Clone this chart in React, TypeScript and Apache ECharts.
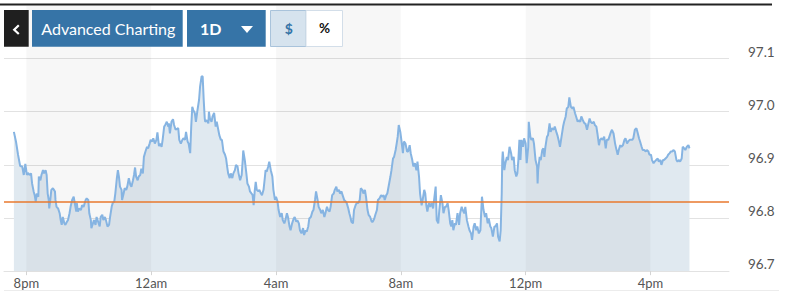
import React, { useEffect, useRef } from "react";
import * as echarts from "echarts";

// minutes after 7:00pm (previous evening)
const minutes = [
  36, 40, 44, 48, 52, 55, 58, 61, 63, 66, 69, 71, 74, 76, 78, 80, 83, 84, 87, 89, 92, 94, 97, 99, 101, 103, 104, 106, 108, 111,
  113, 115, 116, 118, 121, 124, 126, 128, 130, 133, 135, 138, 140, 143, 145, 148, 151, 153, 156, 157, 159, 162, 165, 167, 170, 174, 176, 179, 181, 184,
  185, 188, 190, 193, 195, 198, 201, 203, 206, 208, 211, 213, 216, 219, 221, 224, 226, 229, 231, 234, 236, 238, 240, 243, 244, 247, 249, 252, 254, 257,
  260, 262, 265, 267, 269, 271, 274, 276, 279, 281, 284, 286, 289, 292, 294, 297, 299, 302, 304, 307, 310, 312, 315, 317, 320, 322, 325, 327, 330, 333,
  334, 336, 339, 342, 344, 347,
  352, 354, 357, 360, 362, 365, 367, 370, 372, 375, 377, 379, 381, 384, 386, 389, 392, 394, 397, 399, 401, 403, 404, 407, 410, 411, 413, 416, 418, 421,
  424, 426, 429, 431, 434, 436, 439, 442, 444, 446, 448, 451, 453, 456, 458, 461, 463, 466, 468, 471, 474, 476, 477, 480, 483, 485, 488, 490, 493, 495,
  497, 499, 501, 503, 506, 508, 511, 513, 516, 518, 520, 522, 525, 527, 530, 533, 535, 538, 540, 543, 545, 548, 551, 553, 556, 558, 561, 563, 566, 568,
  571, 574, 576, 579, 581, 584, 586, 589, 592, 594, 597, 599, 602, 604, 607, 610, 612, 615, 617, 620, 622, 625, 627, 630, 633, 635, 638, 640, 643, 645,
  648, 651, 653, 656, 658, 661, 663, 666, 668, 671, 674, 676, 679, 681,
  683, 685, 688, 690, 693, 695, 698, 701, 703, 706, 708, 711, 713, 716, 718, 721, 724, 726, 729, 731, 734, 736, 739, 742, 744, 747, 749, 752, 754, 757,
  760, 762, 765, 767, 770, 772, 774, 776, 779, 781, 784, 786, 789, 792, 794, 797, 799, 802, 804, 807, 810, 812, 815, 817, 820, 822, 825, 827, 829, 831,
  834, 836, 839, 842, 844, 847, 849, 852, 854, 857, 860, 862, 865, 867, 870, 872, 875, 877, 879, 881, 884, 886, 889, 892, 894, 897, 899, 902, 904, 907,
  910, 912, 915, 917, 920, 922, 925, 927, 930, 933, 935, 936, 939, 942, 944, 947, 949, 952, 954, 957, 960, 962, 965, 967, 970, 972, 974, 975, 976, 979,
  981, 984, 986, 989, 992, 994, 997, 999, 1002, 1004, 1006, 1008,
  1010, 1012, 1015, 1017, 1020, 1022, 1025, 1026, 1029, 1031, 1034, 1036, 1039, 1042, 1043, 1044, 1047, 1049, 1052, 1054, 1056, 1058, 1061, 1063, 1066, 1068, 1071, 1074, 1076, 1079,
  1081, 1084, 1086, 1089, 1092, 1094, 1097, 1099, 1102, 1104, 1107, 1110, 1112, 1115, 1117, 1120, 1122, 1125, 1127, 1130, 1133, 1135, 1138, 1140, 1143, 1145, 1148, 1151, 1153, 1156,
  1158, 1161, 1163, 1166, 1168, 1171, 1174, 1176, 1179, 1181, 1184, 1186, 1189, 1192, 1194, 1197, 1199, 1202, 1204, 1207, 1210, 1212, 1215, 1217, 1220, 1222, 1225, 1227, 1230, 1233,
  1235, 1238, 1240, 1243, 1245, 1248, 1251, 1253, 1256, 1258, 1261, 1263, 1266, 1268, 1271, 1274, 1276, 1279, 1281, 1284, 1286, 1289, 1292, 1294, 1297, 1299, 1302, 1304, 1307, 1310,
  1312, 1315, 1317, 1320, 1322, 1325, 1327, 1330, 1333, 1335,
];

const prices = [
  96.962, 96.944, 96.919, 96.898, 96.897, 96.881, 96.902, 96.881, 96.885, 96.881, 96.884, 96.865, 96.85, 96.843, 96.831, 96.846, 96.84, 96.878, 96.871, 96.881, 96.89, 96.884, 96.89, 96.881, 96.846, 96.834, 96.818, 96.834, 96.853, 96.856,
  96.853, 96.85, 96.834, 96.821, 96.818, 96.809, 96.796, 96.787, 96.802, 96.79, 96.787, 96.793, 96.796, 96.809, 96.821, 96.834, 96.84, 96.828, 96.812, 96.828, 96.812, 96.818, 96.815, 96.824, 96.821, 96.834, 96.837, 96.834, 96.809, 96.796,
  96.781, 96.79, 96.796, 96.787, 96.802, 96.793, 96.784, 96.802, 96.806, 96.796, 96.802, 96.796, 96.784, 96.787, 96.802, 96.821, 96.828, 96.831, 96.846, 96.875, 96.89, 96.878, 96.859, 96.853, 96.834, 96.846, 96.856, 96.853, 96.859, 96.875,
  96.862, 96.859, 96.871, 96.881, 96.895, 96.878, 96.871, 96.878, 96.881, 96.893, 96.884, 96.915, 96.925, 96.934, 96.931, 96.94, 96.947, 96.944, 96.95, 96.94, 96.947, 96.961, 96.935, 96.94, 96.934, 96.947, 96.972, 96.975, 96.981, 96.972,
  96.978, 96.959, 96.981, 96.986, 96.975, 96.966,
  96.969, 96.947, 96.94, 96.947, 96.95, 96.947, 96.962, 96.944, 96.94, 96.922, 96.972, 97.009, 97.003, 96.997, 96.981, 97.003, 97.022, 97.047, 97.067, 97.066, 97.022, 96.987, 96.981, 96.984, 96.978, 97.0, 96.987, 96.981, 96.991, 96.998,
  96.972, 96.981, 96.966, 96.956, 96.947, 96.947, 96.925, 96.919, 96.912, 96.897, 96.884, 96.875, 96.884, 96.875, 96.884, 96.89, 96.9, 96.897, 96.884, 96.871, 96.881, 96.909, 96.927, 96.909, 96.884, 96.865, 96.859, 96.85, 96.846, 96.843,
  96.824, 96.85, 96.868, 96.853, 96.85, 96.853, 96.846, 96.843, 96.853, 96.871, 96.89, 96.887, 96.897, 96.906, 96.89, 96.878, 96.853, 96.834, 96.84, 96.831, 96.815, 96.802, 96.809, 96.796, 96.79, 96.796, 96.809, 96.802, 96.784, 96.777,
  96.79, 96.799, 96.802, 96.793, 96.796, 96.79, 96.777, 96.771, 96.781, 96.768, 96.777, 96.774, 96.784, 96.799, 96.802, 96.812, 96.815, 96.834, 96.85, 96.834, 96.821, 96.815, 96.809, 96.815, 96.802, 96.809, 96.821, 96.815, 96.812, 96.821,
  96.843, 96.846, 96.853, 96.859, 96.85, 96.853, 96.846, 96.85, 96.843, 96.834, 96.831, 96.828, 96.818, 96.809,
  96.802, 96.793, 96.79, 96.815, 96.824, 96.828, 96.828, 96.834, 96.856, 96.853, 96.846, 96.853, 96.84, 96.815, 96.806, 96.802, 96.793, 96.793, 96.799, 96.806, 96.815, 96.834, 96.837, 96.843, 96.84, 96.843, 96.834, 96.843, 96.846, 96.862,
  96.878, 96.89, 96.912, 96.915, 96.928, 96.94, 96.953, 96.975, 96.962, 96.947, 96.922, 96.944, 96.94, 96.925, 96.925, 96.937, 96.922, 96.909, 96.897, 96.903, 96.89, 96.906, 96.878, 96.846, 96.824, 96.834, 96.853, 96.846, 96.824, 96.812,
  96.828, 96.821, 96.828, 96.818, 96.834, 96.859, 96.796, 96.79, 96.815, 96.843, 96.828, 96.809, 96.821, 96.821, 96.828, 96.815, 96.79, 96.784, 96.796, 96.777, 96.79, 96.787, 96.809, 96.787, 96.809, 96.821, 96.815, 96.809, 96.821, 96.796,
  96.784, 96.777, 96.771, 96.759, 96.784, 96.79, 96.777, 96.784, 96.771, 96.777, 96.821, 96.84, 96.815, 96.802, 96.809, 96.79, 96.799, 96.784, 96.781, 96.765, 96.784, 96.784, 96.79, 96.765, 96.756, 96.777, 96.846, 96.909, 96.925, 96.89,
  96.903, 96.915, 96.909, 96.934, 96.922, 96.909, 96.915, 96.89, 96.878, 96.884, 96.909, 96.947,
  96.909, 96.947, 96.934, 96.95, 96.94, 96.903, 96.934, 96.981, 96.953, 96.947, 96.95, 96.94, 96.909, 96.897, 96.865, 96.89, 96.915, 96.909, 96.928, 96.931, 96.915, 96.934, 96.953, 96.956, 96.978, 96.962, 96.969, 96.966, 96.972, 96.962,
  96.956, 96.944, 96.934, 96.953, 96.972, 96.981, 96.991, 97.006, 97.009, 97.027, 97.009, 97.006, 97.009, 96.997, 96.991, 96.981, 96.984, 96.981, 96.991, 96.984, 96.978, 96.978, 96.966, 96.975, 96.987, 96.981, 96.978, 96.981, 96.975, 96.972,
  96.959, 96.937, 96.947, 96.95, 96.947, 96.953, 96.931, 96.947, 96.947, 96.953, 96.962, 96.966, 96.959, 96.94, 96.931, 96.919, 96.928, 96.937, 96.934, 96.937, 96.947, 96.95, 96.94, 96.944, 96.947, 96.947, 96.947, 96.95, 96.966, 96.969,
  96.962, 96.95, 96.944, 96.934, 96.928, 96.928, 96.925, 96.928, 96.925, 96.919, 96.919, 96.909, 96.903, 96.906, 96.909, 96.912, 96.906, 96.909, 96.9, 96.909, 96.909, 96.912, 96.915, 96.919, 96.922, 96.925, 96.925, 96.928, 96.925, 96.909,
  96.906, 96.909, 96.906, 96.912, 96.934, 96.931, 96.928, 96.934, 96.937, 96.931,
];

const previousClose = 96.833;
const xTickMinutes = [60, 300, 540, 780, 1020, 1260];
const xTickLabels = ["8pm", "12am", "4am", "8am", "12pm", "4pm"];
const shadedPeriods = [
  [60, 300],
  [540, 780],
  [1020, 1260],
];
const xMin = 17;
const xMax = 1411;
const yMin = 96.7;
const yMax = 97.2;
const yStep = 0.1;

const FONT = "Lato, 'Open Sans', sans-serif";
const BLUE = "#3674a7";

export default function App() {
  const ref = useRef<HTMLDivElement>(null);

  useEffect(() => {
    if (!ref.current) return;
    const chart = echarts.init(ref.current, null, { renderer: "svg" });
    const points = minutes.map((m, i) => [m, prices[i]]);

    chart.setOption({
      animation: false,
      textStyle: { fontFamily: FONT },
      grid: { left: 4, right: 60, top: 5.4, bottom: 26.85 },
      xAxis: {
        type: "value",
        min: xMin,
        max: xMax,
        axisLine: { show: true, lineStyle: { color: "#e2e2e2", width: 1 } },
        axisTick: {
          show: true,
          customValues: xTickMinutes,
          length: 4,
          lineStyle: { color: "#d4d4d4" },
        },
        axisLabel: {
          customValues: xTickMinutes,
          formatter: (v: number) => {
            const i = xTickMinutes.indexOf(Math.round(v));
            return i >= 0 ? xTickLabels[i] : "";
          },
          color: "#555",
          fontSize: 13,
          fontFamily: FONT,
          margin: 5,
        },
        splitLine: { show: false },
      },
      yAxis: {
        type: "value",
        position: "right",
        min: yMin,
        max: yMax,
        interval: yStep,
        axisLine: { show: false },
        axisTick: { show: false },
        axisLabel: {
          formatter: (v: number) => v.toFixed(1),
          showMaxLabel: false,
          showMinLabel: true,
          verticalAlign: "bottom",
          margin: 19,
          color: "#555",
          fontSize: 13.5,
          fontFamily: FONT,
        },
        splitLine: {
          show: true,
          lineStyle: {
            color: ["#e2e2e2", "#e2e2e2", "#e2e2e2", "#e2e2e2", "#e2e2e2", "rgba(0,0,0,0)"],
            width: 1,
          },
        },
      },
      series: [
        {
          name: "area",
          type: "line",
          data: points,
          showSymbol: false,
          silent: true,
          z: 0,
          lineStyle: { width: 0, opacity: 0 },
          areaStyle: { color: "#e0e9f0", opacity: 1 },
        },
        {
          name: "bands",
          type: "line",
          data: points,
          showSymbol: false,
          silent: true,
          z: 1,
          lineStyle: { width: 0, opacity: 0 },
          markArea: {
            silent: true,
            itemStyle: { color: "rgba(0,0,0,0.031)" },
            data: shadedPeriods.map(([a, b]) => [{ xAxis: a }, { xAxis: b }]),
          },
        },
        {
          name: "price",
          type: "line",
          data: points,
          showSymbol: false,
          silent: true,
          z: 3,
          lineStyle: { color: "#86b4e2", width: 2 },
          markLine: {
            silent: true,
            symbol: ["none", "none"],
            label: { show: false },
            lineStyle: { color: "#e8782e", width: 1.5, type: "solid" },
            data: [{ yAxis: previousClose }],
          },
        },
      ],
      graphic: [
        { type: "rect", z: 100, shape: { x: 0, y: 3.5, width: 772, height: 2 }, style: { fill: "#222222" } },
        { type: "line", z: 100, shape: { x1: 4, y1: 290.5, x2: 779, y2: 290.5 }, style: { stroke: "#ececec", lineWidth: 1 } },
        { type: "rect", z: 100, shape: { x: 4, y: 10, width: 24.7, height: 36.7 }, style: { fill: "#1f1f1f" } },
        {
          type: "polyline",
          z: 101,
          shape: { points: [[18.8, 25.3], [14.2, 29.7], [18.8, 34]] },
          style: { stroke: "#ffffff", lineWidth: 2.2, fill: null },
        },
        { type: "rect", z: 100, shape: { x: 32, y: 10, width: 150.7, height: 36.7 }, style: { fill: BLUE } },
        {
          type: "text",
          z: 101,
          x: 108.3,
          y: 28.5,
          style: {
            text: "Advanced Charting",
            fill: "#ffffff",
            fontSize: 16,
            fontFamily: FONT,
            align: "center",
            verticalAlign: "middle",
            textAlign: "center",
            textVerticalAlign: "middle",
          },
        },
        { type: "rect", z: 100, shape: { x: 187, y: 10, width: 78.7, height: 36.7 }, style: { fill: BLUE } },
        {
          type: "text",
          z: 101,
          x: 200,
          y: 28.5,
          style: {
            text: "1D",
            fill: "#ffffff",
            fontSize: 16,
            fontWeight: "bold",
            fontFamily: FONT,
            align: "left",
            verticalAlign: "middle",
            textAlign: "left",
            textVerticalAlign: "middle",
          },
        },
        {
          type: "polygon",
          z: 101,
          shape: { points: [[241, 26], [253, 26], [247, 33]] },
          style: { fill: "#ffffff" },
        },
        {
          type: "rect",
          z: 100,
          shape: { x: 270.5, y: 10.5, width: 35.5, height: 36 },
          style: { fill: "#d6e3ee", stroke: "#a9c3db", lineWidth: 1 },
        },
        {
          type: "text",
          z: 101,
          x: 288.8,
          y: 28,
          style: {
            text: "$",
            fill: BLUE,
            fontSize: 14,
            fontWeight: "bold",
            fontFamily: FONT,
            align: "center",
            verticalAlign: "middle",
            textAlign: "center",
            textVerticalAlign: "middle",
          },
        },
        {
          type: "rect",
          z: 100,
          shape: { x: 306, y: 10.5, width: 36.5, height: 36 },
          style: { fill: "#ffffff", stroke: "#d3dee9", lineWidth: 1 },
        },
        {
          type: "text",
          z: 101,
          x: 324.5,
          y: 28,
          style: {
            text: "%",
            fill: "#111111",
            fontSize: 13.5,
            fontWeight: "bold",
            fontFamily: FONT,
            align: "center",
            verticalAlign: "middle",
            textAlign: "center",
            textVerticalAlign: "middle",
          },
        },
      ],
    });

    return () => chart.dispose();
  }, []);

  return (
    <div
      ref={ref}
      style={{ position: "absolute", left: 0, top: 0, width: 789, height: 298, background: "#ffffff" }}
    />
  );
}
